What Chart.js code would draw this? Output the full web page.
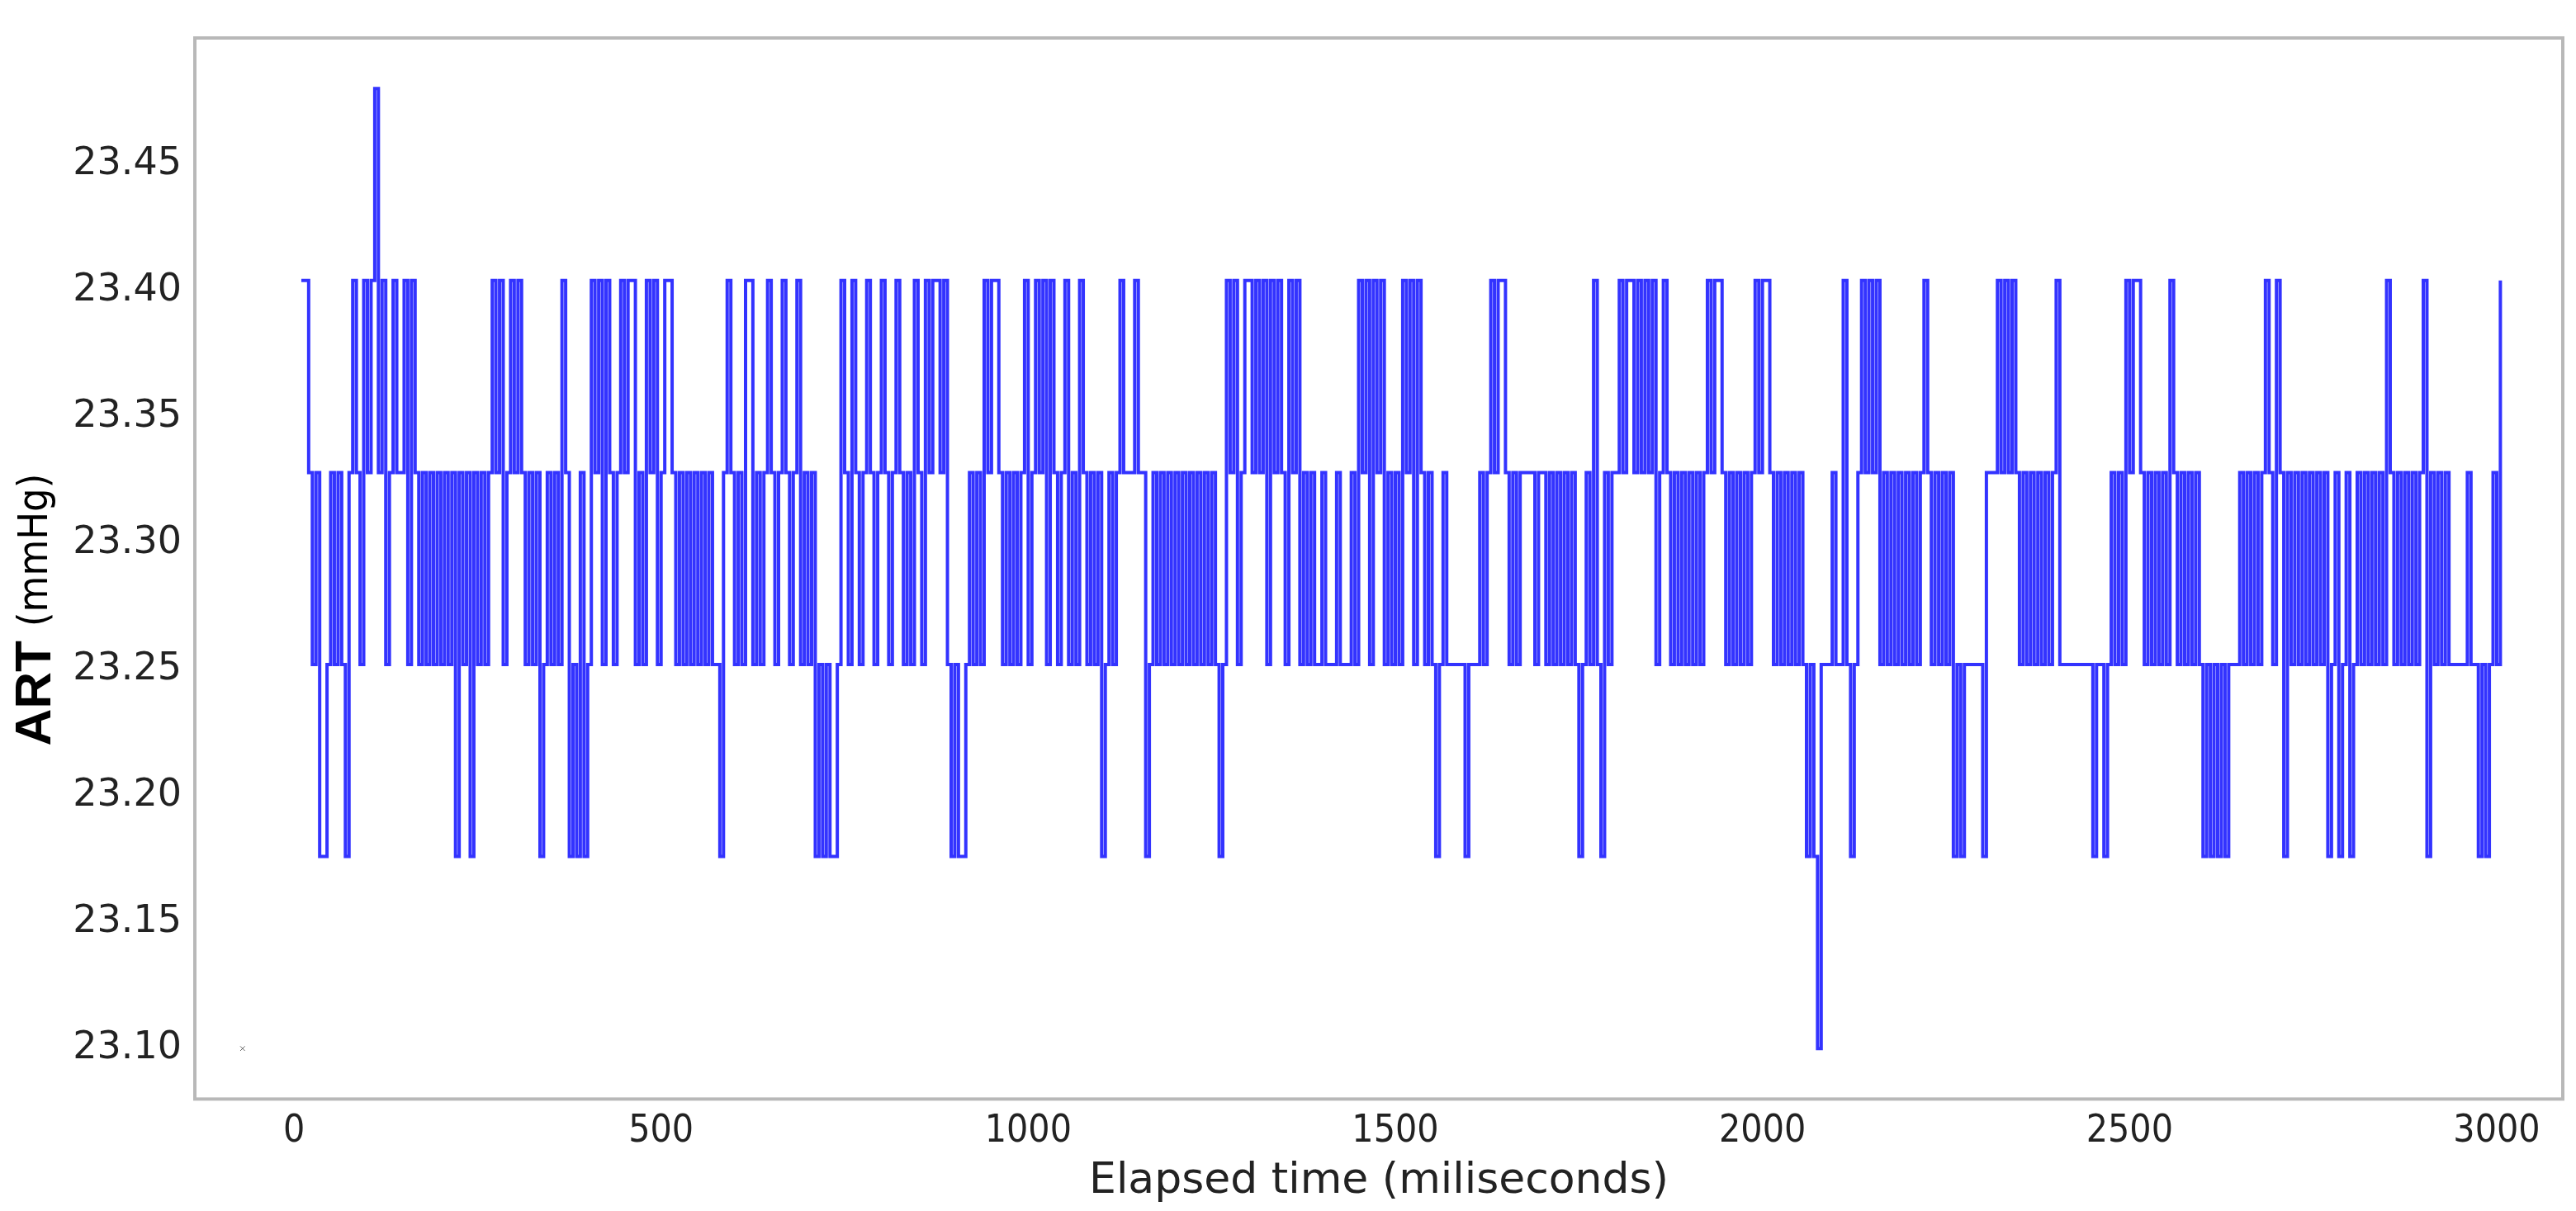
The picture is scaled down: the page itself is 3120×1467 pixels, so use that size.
<!DOCTYPE html>
<html><head><meta charset="utf-8">
<script src="https://cdn.jsdelivr.net/npm/chart.js@4"></script>
<style>html,body{margin:0;padding:0;background:#fff}#w{width:3120px;height:1467px}</style>
</head><body><div id="w"><canvas id="c"></canvas></div>
<script>
// pressure levels (mmHg) seen in the signal
const levels = [23.100, 23.176, 23.252, 23.328, 23.404, 23.480];
// sample times (ms): every 5 ms from 10 to 3005
const startTime = 10, sampleStep = 5;
// level index for each sample, 20 per line (100 ms)
const levelCodes = [
4,4,3,2,3,1,1,2,3,2,3,2,1,3,4,3,2,4,3,4,
5,3,4,2,3,4,3,3,4,2,4,3,2,3,2,3,2,3,2,3,
2,3,1,3,2,3,1,3,2,3,2,3,4,3,4,2,3,4,3,4,
3,2,3,2,3,1,2,3,2,3,2,4,3,1,2,1,3,1,2,4,
3,4,2,4,3,2,3,4,3,4,4,2,3,2,4,3,4,2,3,4,
4,3,2,3,2,3,2,3,2,3,2,3,2,2,1,3,4,3,2,3,
2,4,4,2,3,2,3,4,3,2,3,4,3,2,3,4,2,3,2,3,
1,2,1,2,1,1,2,4,3,2,4,3,2,3,4,3,2,3,4,3,
2,3,4,3,2,3,2,4,3,2,4,3,4,4,3,4,2,1,2,1,
1,2,3,2,3,2,4,3,4,4,3,2,3,2,3,2,3,4,2,3,
4,3,4,2,4,3,2,3,4,2,3,2,4,3,2,3,2,3,1,2,
3,2,3,4,3,3,3,4,3,3,1,2,3,2,3,2,3,2,3,2,
3,2,3,2,3,2,3,2,3,2,1,2,4,3,4,2,3,4,4,3,
4,3,4,2,4,3,4,3,2,4,3,4,2,3,2,3,2,2,3,2,
2,2,3,2,2,2,3,2,4,3,4,2,4,3,4,2,3,2,3,2,
4,3,4,2,4,3,2,3,2,1,2,3,2,2,2,2,2,1,2,2,
2,3,2,3,4,3,4,4,3,2,3,2,3,3,3,3,2,3,3,2,
3,2,3,2,3,2,3,2,1,2,3,2,4,2,1,3,2,3,3,4,
3,4,4,3,4,3,4,3,4,2,3,4,3,2,3,2,3,2,3,2,
3,2,3,4,3,4,4,3,2,3,2,3,2,3,2,3,4,3,4,4,
3,2,3,2,3,2,3,2,3,2,1,2,1,0,2,2,2,3,2,2,
4,2,1,2,3,4,3,4,3,4,2,3,2,3,2,3,2,3,2,3,
2,3,4,3,2,3,2,3,2,3,1,2,1,2,2,2,2,2,1,3,
3,3,4,3,4,3,4,3,2,3,2,3,2,3,2,3,2,3,4,2,
2,2,2,2,2,2,2,2,1,2,2,1,2,3,2,3,2,4,3,4,
4,3,2,3,2,3,2,3,2,4,3,2,3,2,3,2,3,2,1,2,
1,2,1,2,1,2,2,2,3,2,3,2,3,2,3,4,3,2,4,3,
1,3,2,3,2,3,2,3,2,3,2,3,1,2,3,1,2,3,1,2,
3,2,3,2,3,2,3,2,4,3,2,3,2,3,2,3,2,3,4,1,
3,2,3,2,3,2,2,2,2,2,3,2,2,1,2,1,2,3,2,4
];
// stray marker near the y axis
const strayPoint = [{x: -70, y: 23.10}];
const yTicks = [23.10, 23.15, 23.20, 23.25, 23.30, 23.35, 23.40, 23.45];
const xTicks = [0, 500, 1000, 1500, 2000, 2500, 3000];

const series = levelCodes.map((c, i) => ({x: startTime + i * sampleStep, y: levels[c]}));

const frame = {
  id: 'frame',
  afterDraw(ch) {
    const a = ch.chartArea, g = ch.ctx;
    g.save(); g.strokeStyle = '#b8b8b8'; g.lineWidth = 4;
    g.strokeRect(a.left, a.top, a.right - a.left, a.bottom - a.top);
    g.fillStyle = '#000'; g.translate(44, (a.top + a.bottom) / 2 + 50); g.rotate(-Math.PI / 2);
    g.textBaseline = 'middle'; g.textAlign = 'left';
    const f1 = 'bold 62px "Liberation Sans", "DejaVu Sans"', f2 = '50px "DejaVu Sans Condensed", "DejaVu Sans"';
    g.font = f1; const w1 = g.measureText('ART ').width;
    g.font = f2; const w2 = g.measureText('(mmHg)').width;
    const x0 = -(w1 + w2) / 2;
    g.font = f1; g.fillText('ART ', x0, 0);
    g.font = f2; g.fillText('(mmHg)', x0 + w1, 0);
    g.restore();
  }
};

new Chart(document.getElementById('c'), {
  type: 'line',
  data: { datasets: [
    { data: series, stepped: true, borderColor: 'rgba(0,0,255,0.8)', borderWidth: 4, pointRadius: 0, fill: false },
    { data: strayPoint, showLine: false, pointRadius: 4, pointStyle: 'crossRot', borderColor: '#666', backgroundColor: '#666' }
  ]},
  plugins: [frame],
  options: {
    responsive: true, maintainAspectRatio: false, animation: false,
    layout: { padding: { left: 20, top: 46, right: 16, bottom: 4 } },
    plugins: { legend: { display: false }, tooltip: { enabled: false } },
    scales: {
      x: { type: 'linear', min: -135, max: 3090,
        afterBuildTicks: s => { s.ticks = xTicks.map(v => ({value: v})); },
        grid: { display: false, drawTicks: true, tickLength: 10, tickColor: '#666' }, border: { display: false },
        ticks: { color: '#222', font: { size: 46, family: '"DejaVu Sans Condensed", "DejaVu Sans"' }, padding: 2, maxRotation: 0, callback: v => String(v) },
        title: { display: true, text: 'Elapsed time (miliseconds)', color: '#222', font: { size: 52, family: '"DejaVu Sans"' }, padding: { top: 0, bottom: 0 } }
      },
      y: { min: 23.08, max: 23.50,
        afterBuildTicks: s => { s.ticks = yTicks.map(v => ({value: v})); },
        afterFit: s => { s.width = 216; },
        grid: { display: false, drawTicks: true, tickLength: 10, tickColor: '#666' }, border: { display: false },
        ticks: { color: '#222', font: { size: 46, family: '"DejaVu Sans"' }, padding: 6, callback: v => v.toFixed(2) }
      }
    }
  }
});
</script></body></html>
